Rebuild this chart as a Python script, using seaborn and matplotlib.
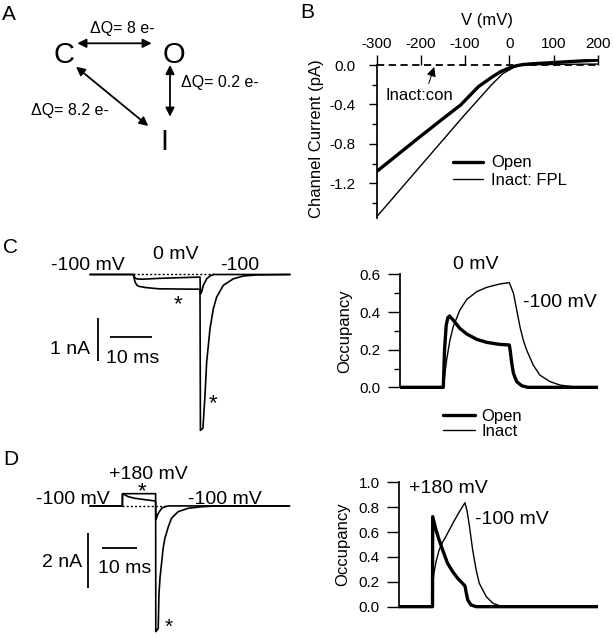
import matplotlib
matplotlib.use("Agg")
import matplotlib.pyplot as plt
import seaborn as sns

# ---- B: single-channel I-V (mV, pA) ----
v_open = [-300, -250, -200, -150, -110, -70, -40, -20, 0, 10, 20, 30, 50, 100, 150, 200]
i_open = [-1.08, -0.90, -0.72, -0.544, -0.405, -0.22, -0.125, -0.068, -0.03, -0.014, -0.004, 0.004, 0.012, 0.025, 0.038, 0.05]
v_fpl = [-300, -250, -200, -150, -100, -80, -40, -15, 0, 10, 20, 30, 50, 100, 200]
i_fpl = [-1.54, -1.28, -1.02, -0.76, -0.50, -0.40, -0.20, -0.088, -0.05, -0.024, -0.008, 0.0, 0.004, 0.006, 0.01]
v_con = [-300, 200]
i_con = [0.0, 0.0]
v_ticks = [-300, -200, -100, 0, 100, 200]
i_ticks = [0.0, -0.4, -0.8, -1.2]
i_minor = [-0.2, -0.6, -1.0, -1.4]

# ---- C: 0 mV step, currents (ms, nA) ----
tc_ctrl = [0, 10.4, 10.8, 11.2, 12.4, 16.4, 21.0, 26.4, 26.5, 26.8, 27.2, 28.0, 28.8, 29.6, 48]
ic_ctrl = [0, 0, -0.08, -0.10, -0.11, -0.09, -0.075, -0.06, -0.45, -0.40, -0.25, -0.10, -0.035, 0, 0]
tc_fpl = [0, 10.4, 10.8, 11.2, 11.6, 13.2, 16.4, 21.0, 26.4, 26.5, 27.1, 27.6, 28.0, 28.4, 28.8,
          29.6, 30.4, 32.0, 34.4, 36.8, 40.0, 48]
ic_fpl = [0, 0, -0.17, -0.24, -0.27, -0.30, -0.33, -0.335, -0.34, -3.6, -3.55, -2.79, -2.02, -1.64, -1.25,
          -0.79, -0.52, -0.25, -0.10, -0.035, -0.01, 0]
tc_dot = [10.4, 30.0]
ic_dot = [0, 0]

# ---- C: occupancy ----
tco_open = [0, 10.5, 10.8, 11.2, 11.6, 12.0, 12.9, 14.5, 16.2, 18.6, 21.0, 24.2, 26.5, 26.7, 27.1,
            27.5, 28.3, 29.5, 31, 48]
pco_open = [0, 0, 0.2, 0.33, 0.37, 0.379, 0.357, 0.313, 0.283, 0.255, 0.239, 0.228, 0.225, 0.198, 0.127,
            0.074, 0.03, 0.0085, 0, 0]
tco_inact = [0, 10.5, 11.3, 12.1, 12.9, 14.5, 16.2, 18.6, 21.0, 24.2, 26.5, 27.5, 28.3, 29.1, 29.9,
             30.7, 32.3, 33.9, 36.4, 38.8, 42.0, 48]
pco_inact = [0, 0, 0.145, 0.25, 0.322, 0.41, 0.467, 0.508, 0.531, 0.549, 0.556, 0.5, 0.41, 0.32, 0.25,
             0.198, 0.118, 0.065, 0.03, 0.012, 0.003, 0]
occ_c_ticks = [0.0, 0.2, 0.4, 0.6]
occ_c_minor = [0.1, 0.3, 0.5]

# ---- D: +180 mV step, currents (ms, nA) ----
td_ctrl = [0, 9.24, 9.3, 10.95, 12.86, 15.7, 18.76, 18.8, 19.0, 19.5, 20.5, 21.4, 22.4, 57]
id_ctrl = [0, 0, 0.45, 0.34, 0.28, 0.23, 0.18, -0.5, -0.45, -0.27, -0.085, -0.03, 0, 0]
td_fpl = [0, 9.24, 9.3, 18.76, 18.8, 19.5, 19.7, 20.0, 20.5, 20.9, 21.4, 22.4, 23.3, 25.2, 28.1, 31.9, 36, 57]
id_fpl = [0, 0, 0.45, 0.45, -4.62, -4.5, -3.27, -2.66, -2.05, -1.56, -1.19, -0.76, -0.45, -0.21, -0.085, -0.03, 0, 0]
td_dot = [9.24, 22.0]
id_dot = [0, 0]

# ---- D: occupancy ----
tdo_open = [0, 9.6, 9.65, 10.6, 11.5, 12.5, 13.9, 15.4, 16.8, 18.2, 18.9, 19.2, 19.7, 20.6, 22.1, 57]
pdo_open = [0, 0, 0.724, 0.617, 0.536, 0.456, 0.349, 0.281, 0.228, 0.188, 0.166, 0.12, 0.054, 0.014, 0, 0]
tdo_inact = [0, 9.6, 9.75, 10.0, 10.6, 11.5, 12.5, 13.4, 15.4, 17.3, 18.9, 19.5, 20.2, 21.1, 22.1,
             23.0, 25.0, 26.9, 28.8, 31, 57]
pdo_inact = [0, 0, 0.2, 0.27, 0.36, 0.456, 0.52, 0.563, 0.67, 0.764, 0.836, 0.77, 0.643, 0.456, 0.295,
             0.188, 0.08, 0.027, 0.008, 0, 0]
occ_d_ticks = [0.0, 0.2, 0.4, 0.6, 0.8, 1.0]

sns.set_theme(style="ticks", rc={"axes.edgecolor": "black", "xtick.color": "black",
                                 "ytick.color": "black", "text.color": "black",
                                 "axes.labelcolor": "black", "axes.unicode_minus": False})
plt.rcParams["font.family"] = ["Liberation Sans", "DejaVu Sans"]

W, H = 613, 639
fig = plt.figure(figsize=(W / 100, H / 100), dpi=100)


def box(x0, y0, x1, y1):
    return [x0 / W, 1 - y1 / H, (x1 - x0) / W, (y1 - y0) / H]


def line(ax, x, y, lw, **kw):
    sns.lineplot(x=x, y=y, ax=ax, color="black", lw=lw, estimator=None, sort=False, **kw)


# ---------------- B ----------------
ax_b = fig.add_axes(box(376.7, 59.1, 597.7, 217.8))
line(ax_b, v_con, i_con, 1.3, linestyle=(0, (4, 2.5)))
line(ax_b, v_open, i_open, 2.4, label="Open")
line(ax_b, v_fpl, i_fpl, 1.0, label="Inact: FPL")
ax_b.set_xlim(-300, 200)
ax_b.set_ylim(-1.55, 0.06)
for s in ["right", "bottom"]:
    ax_b.spines[s].set_visible(False)
ax_b.spines["top"].set_position(("data", 0))
ax_b.spines["top"].set_visible(False)
ax_b.spines["left"].set_bounds(-1.55, 0)
ax_b.xaxis.set_ticks_position("top")
ax_b.xaxis.set_label_position("top")
ax_b.set_xticks(v_ticks)
ax_b.set_xticklabels([str(v) for v in v_ticks])
ax_b.set_yticks(i_ticks)
ax_b.set_yticklabels([f"{v:.1f}" for v in i_ticks])
ax_b.set_yticks(i_minor, minor=True)
ax_b.tick_params(axis="x", length=7, width=1, pad=3, labelsize=11)
ax_b.tick_params(axis="y", which="major", length=6, width=1, pad=9.5, labelsize=11)
ax_b.tick_params(axis="y", which="minor", length=3.5, width=1)
ax_b.set_xlabel("V (mV)", fontsize=12, labelpad=9)
ax_b.set_ylabel("Channel Current (pA)", fontsize=12, labelpad=3.5)
ax_b.annotate("Inact:con", xy=(-170, -0.02), xytext=(-204, -0.31), ha="center", va="center",
              fontsize=12, arrowprops=dict(arrowstyle="-|>", color="black", lw=0.7,
                                           mutation_scale=14, shrinkA=1, shrinkB=0,
                                           relpos=(0.62, 1.0)))
ax_b.legend(loc="upper left", bbox_to_anchor=(453.3 / W, 1 - 155.5 / H),
            bbox_transform=fig.transFigure, frameon=False, fontsize=12, handlelength=1.8,
            handletextpad=0.45, labelspacing=0.16, borderpad=0, borderaxespad=0)

# ---------------- C: currents ----------------
ax_cl = fig.add_axes(box(0, 235, 300, 440))
ax_cl.set_xlim(-21.6, 50.4)
ax_cl.set_ylim(-3.822, 0.912)
line(ax_cl, tc_dot, ic_dot, 1.0, linestyle=(0, (1.5, 1.5)))
line(ax_cl, tc_ctrl, ic_ctrl, 1.2)
line(ax_cl, tc_fpl, ic_fpl, 1.2)
ax_cl.vlines(2.0, -2.0, -1.0, color="black", lw=1.3)
ax_cl.hlines(-1.45, 4.8, 14.8, color="black", lw=1.3)
ax_cl.axis("off")

# ---------------- C: occupancy ----------------
ax_cr = fig.add_axes(box(400, 270.6, 598, 391.1))
line(ax_cr, tco_inact, pco_inact, 1.0, label="Inact")
line(ax_cr, tco_open, pco_open, 2.4, label="Open")
ax_cr.set_xlim(0, 48)
ax_cr.set_ylim(-0.02, 0.62)
for s in ["right", "bottom", "top"]:
    ax_cr.spines[s].set_visible(False)
ax_cr.spines["left"].set_bounds(0, 0.6)
ax_cr.set_xticks([])
ax_cr.set_yticks(occ_c_ticks)
ax_cr.set_yticklabels([f"{v:.1f}" for v in occ_c_ticks])
ax_cr.set_yticks(occ_c_minor, minor=True)
ax_cr.tick_params(axis="y", which="major", length=9, width=1, pad=5, labelsize=11)
ax_cr.tick_params(axis="y", which="minor", length=4.5, width=1)
ax_cr.set_ylabel("Occupancy", fontsize=12, labelpad=5)
hs, ls = ax_cr.get_legend_handles_labels()
ax_cr.legend(hs[::-1], ls[::-1], loc="upper left", bbox_to_anchor=(443.3 / W, 1 - 408.5 / H),
             bbox_transform=fig.transFigure, frameon=False, fontsize=12, handlelength=1.9,
             handletextpad=0.4, labelspacing=0.0, borderpad=0, borderaxespad=0)

# ---------------- D: currents ----------------
ax_dl = fig.add_axes(box(0, 470, 300, 639))
ax_dl.set_xlim(-25.7, 60)
ax_dl.set_ylim(-4.89, 1.32)
line(ax_dl, td_dot, id_dot, 1.0, linestyle=(0, (1.5, 1.5)))
line(ax_dl, td_ctrl, id_ctrl, 1.2)
line(ax_dl, td_fpl, id_fpl, 1.2)
ax_dl.vlines(-0.5, -3.0, -1.0, color="black", lw=1.3)
ax_dl.hlines(-1.55, 3.3, 13.3, color="black", lw=1.3)
ax_dl.axis("off")

# ---------------- D: occupancy ----------------
ax_dr = fig.add_axes(box(399, 478.6, 598, 610.4))
line(ax_dr, tdo_inact, pdo_inact, 1.0)
line(ax_dr, tdo_open, pdo_open, 2.4)
ax_dr.set_xlim(0, 57)
ax_dr.set_ylim(-0.03, 1.03)
for s in ["right", "bottom", "top"]:
    ax_dr.spines[s].set_visible(False)
ax_dr.spines["left"].set_bounds(0, 1.0)
ax_dr.set_xticks([])
ax_dr.set_yticks(occ_d_ticks)
ax_dr.set_yticklabels([f"{v:.1f}" for v in occ_d_ticks])
ax_dr.tick_params(axis="y", which="major", length=9, width=1, pad=5, labelsize=11)
ax_dr.set_ylabel("Occupancy", fontsize=12, labelpad=6)

# ---------------- overlay for labels (pixel coords) ----------------
ax0 = fig.add_axes([0, 0, 1, 1])
ax0.set_xlim(0, W)
ax0.set_ylim(H, 0)
ax0.axis("off")
ax0.patch.set_alpha(0)


def put(x, y, s, size=14, ha="center"):
    # y = middle of the capitals
    ax0.text(x, y + 0.358 * size * 100 / 72, s, fontsize=size, ha=ha, va="baseline")


def star(x, y, size=16):
    ax0.text(x, y + 0.48 * size * 100 / 72, "*", fontsize=size, ha="center", va="baseline")


def arrow2(x0, y0, x1, y1):
    ax0.annotate("", xy=(x1, y1), xytext=(x0, y0),
                 arrowprops=dict(arrowstyle="<|-|>", color="black", lw=1.3,
                                 mutation_scale=13, shrinkA=0, shrinkB=0))


# panel letters
put(1.7, 12.5, "A", 15, ha="left")
put(300, 10.8, "B", 15, ha="left")
put(3.3, 245.8, "C", 15, ha="left")
put(3.3, 457.5, "D", 15, ha="left")

# A: kinetic scheme
put(64.2, 52.5, "C", 21)
put(174.2, 52.5, "O", 21)
put(164.2, 139.2, "I", 21)
put(122.2, 27, "ΔQ= 8 e-", 11.5)
put(220, 81.7, "ΔQ= 0.2 e-", 11.5)
put(70, 109.2, "ΔQ= 8.2 e-", 11.5)
arrow2(77.3, 43.3, 151.7, 43.3)
arrow2(170, 65, 170, 116.7)
arrow2(76, 66.7, 148.3, 126)

# C labels
put(88.3, 263, "-100 mV")
put(175.8, 252, "0 mV")
put(240, 263, "-100")
star(178.3, 300)
star(213.3, 398.3)
put(90, 347.5, "1 nA", ha="right")
put(132.5, 355.8, "10 ms")
put(475.8, 262.2, "0 mV")
put(560.3, 300, "-100 mV")

# D labels
put(148.3, 471.7, "+180 mV")
put(73.3, 496.7, "-100 mV")
put(225, 496.7, "-100 mV")
star(141.7, 486.7)
star(168.3, 622.5, size=15)
put(81.7, 560, "2 nA", ha="right")
put(124.2, 565.8, "10 ms")
put(448.3, 486.3, "+180 mV")
put(511.7, 517.5, "-100 mV")

fig.savefig("out.png", dpi=100)
